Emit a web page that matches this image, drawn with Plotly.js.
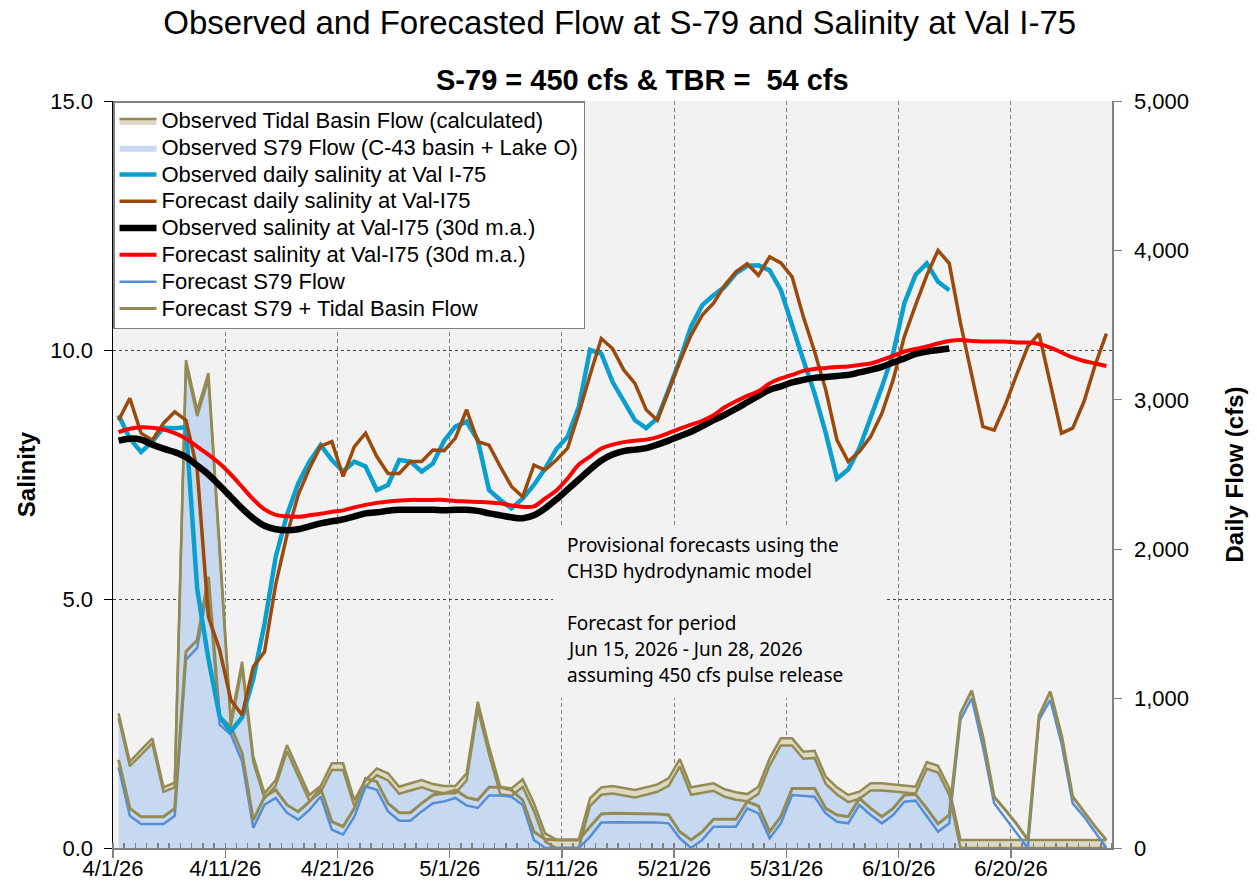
<!DOCTYPE html>
<html>
<head>
<meta charset="utf-8">
<script src="https://cdn.plot.ly/plotly-3.0.1.min.js"></script>
<style>
  body { margin: 0; background: #fff; }
  #chart { width: 1257px; height: 890px; }
</style>
</head>
<body>
<div id="chart"></div>
<script>
// daily values, 4/1/26 .. 6/28/26
var startDate = '2026-04-01';

// observed flows (cfs)
var obsS79 = [
  868,548,624,700,376,405,3226,2891,3139,1960,
  819,1207,576,331,417,647,480,315,373,522,
  522,281,410,488,452,362,385,407,380,367,
  367,452,929,628,360,349,408,247,43,0,
  0,0,281,356,365,349,338,356,376,416,
  545,356,372,383,343,323,313,362,552,686,
  686,597,603,429,358,307,329,385,385,378,
  367,365,530,505,355,0,0,0,0,0,
  0,0,0,0,0,0,0,0,0];
var obsTB = [
  33,30,32,34,30,32,40,40,40,40,
  38,40,35,35,38,42,42,40,42,45,
  45,40,45,45,48,48,48,48,48,48,
  48,48,50,50,50,50,52,52,55,56,
  56,56,52,50,50,50,50,50,50,50,
  50,50,50,50,50,50,48,48,48,48,
  48,48,48,48,48,48,48,48,48,48,
  48,45,45,45,45,54,54,54,54,54,
  54,54,54,54,54,54,54,54,54];

// forecast flows (cfs)
var fcstS79 = [
  540,215,160,160,160,215,1260,1340,1760,825,
  760,580,135,290,335,235,190,255,345,122,
  90,210,412,390,245,182,182,245,300,312,
  335,285,268,352,352,343,288,54,0,0,
  0,0,76,170,172,172,172,172,170,165,
  65,0,54,143,143,143,265,232,65,165,
  355,348,343,232,176,165,288,221,165,221,
  310,317,214,109,165,857,1002,678,299,199,
  98,0,857,991,701,299,210,109,0];
var fcstTotal = [
  590,265,210,210,210,265,1314,1392,1816,879,
  812,634,187,343,388,288,243,310,399,176,
  143,265,466,444,299,236,236,299,355,366,
  388,339,321,406,406,388,321,109,58,54,
  54,54,143,228,232,232,232,232,228,221,
  109,54,109,192,192,192,310,281,109,210,
  399,399,399,265,221,210,332,265,210,265,
  355,359,265,161,221,901,1053,745,343,254,
  161,54,884,1046,756,343,243,143,54];

// salinity
var obsSal = [
  8.69,8.22,7.95,8.16,8.44,8.43,8.45,5.2,3.8,2.64,
  2.34,2.62,3.4,4.5,5.85,6.69,7.32,7.76,8.09,7.79,
  7.56,7.76,7.66,7.19,7.29,7.79,7.76,7.56,7.72,8.18,
  8.46,8.56,8.19,7.19,6.99,6.82,7.02,7.29,7.62,8.01,
  8.26,8.86,10.0,9.93,9.36,8.96,8.59,8.43,8.63,9.2,
  9.8,10.47,10.9,11.1,11.27,11.54,11.69,11.7,11.6,11.2,
  10.47,9.8,9.13,8.33,7.42,7.6,8.03,8.63,9.26,9.93,
  10.94,11.51,11.74,11.37,11.2];
var fcstSal = [
  8.59,9.03,8.33,8.19,8.53,8.76,8.59,7.6,4.64,3.98,
  2.97,2.67,3.64,3.94,5.3,6.29,7.09,7.62,8.07,8.16,
  7.46,8.06,8.33,7.86,7.52,7.52,7.76,7.76,7.99,7.98,
  8.23,8.8,8.16,8.09,7.66,7.26,7.05,7.69,7.59,7.79,
  8.03,8.73,9.5,10.23,10.03,9.6,9.33,8.8,8.59,9.2,
  9.77,10.3,10.7,10.94,11.3,11.57,11.73,11.5,11.87,11.75,
  11.47,10.67,9.97,9.2,8.19,7.76,7.96,8.26,8.73,9.4,
  10.27,10.9,11.5,12.0,11.74,10.54,9.53,8.46,8.39,8.9,
  9.5,10.07,10.33,9.36,8.33,8.43,8.96,9.7,10.33];
var obsSalMA = [
  8.18,8.22,8.20,8.10,8.02,7.95,7.85,7.68,7.50,7.28,
  7.05,6.82,6.62,6.47,6.40,6.38,6.40,6.46,6.52,6.56,
  6.60,6.66,6.72,6.74,6.77,6.79,6.79,6.79,6.79,6.78,
  6.79,6.79,6.77,6.72,6.68,6.64,6.62,6.68,6.82,7.00,
  7.20,7.40,7.60,7.78,7.90,7.97,8.00,8.03,8.10,8.18,
  8.27,8.36,8.47,8.59,8.70,8.82,8.95,9.08,9.20,9.27,
  9.35,9.40,9.44,9.46,9.48,9.50,9.55,9.60,9.66,9.75,
  9.83,9.92,9.97,10.0,10.03];
var fcstSalMA = [
  8.35,8.42,8.45,8.44,8.40,8.33,8.22,8.06,7.90,7.72,
  7.50,7.25,7.00,6.80,6.69,6.66,6.65,6.68,6.71,6.75,
  6.78,6.84,6.89,6.93,6.96,6.98,6.99,6.99,6.99,6.99,
  6.97,6.96,6.95,6.94,6.92,6.88,6.85,6.86,7.02,7.18,
  7.42,7.70,7.86,8.02,8.10,8.15,8.18,8.20,8.25,8.33,
  8.42,8.50,8.58,8.69,8.85,8.97,9.08,9.17,9.33,9.43,
  9.50,9.58,9.62,9.64,9.66,9.67,9.70,9.73,9.80,9.88,
  9.97,10.02,10.07,10.13,10.18,10.20,10.18,10.17,10.17,10.17,
  10.15,10.15,10.12,10.05,9.95,9.85,9.78,9.73,9.68];

var noteLines = [
  'Provisional forecasts using the',
  'CH3D hydrodynamic model',
  '',
  'Forecast for period',
  'Jun 15, 2026 - Jun 28, 2026',
  'assuming 450 cfs pulse release'];

// each day sits in the middle of its slot (excel "between tick marks")
function dayList(n) {
  var out = [];
  var t0 = Date.parse(startDate + 'T00:00:00Z');
  for (var i = 0; i < n; i++) {
    out.push(new Date(t0 + i * 86400000).toISOString().slice(0, 10) + ' 12:00');
  }
  return out;
}
var days = dayList(obsS79.length);

// legend text a bit wider than its row height
function lg(s) { return '<span style="font-size:22px">' + s + '</span>'; }

var olive = '#948a54';
var traces = [
  {x: days, y: obsS79, yaxis: 'y', type: 'scatter', mode: 'lines', stackgroup: 'obs',
   name: lg('Observed S79 Flow (C-43 basin + Lake O)'), fillcolor: '#c6d9f1',
   line: {width: 0, color: '#c6d9f1'}, legendrank: 2},
  {x: days, y: obsTB, yaxis: 'y', type: 'scatter', mode: 'lines', stackgroup: 'obs',
   name: lg('Observed Tidal Basin Flow (calculated)'), fillcolor: '#ddd9c4',
   line: {width: 2.5, color: olive}, legendrank: 1},
  {x: days, y: obsS79, yaxis: 'y', type: 'scatter', mode: 'lines', showlegend: false,
   line: {width: 2.5, color: olive}, hoverinfo: 'skip'},
  {x: days, y: fcstS79, yaxis: 'y', type: 'scatter', mode: 'lines',
   name: lg('Forecast S79 Flow'), line: {width: 2.5, color: '#558ed5'}, legendrank: 7},
  {x: days, y: fcstTotal, yaxis: 'y', type: 'scatter', mode: 'lines',
   name: lg('Forecast S79 + Tidal Basin Flow'), line: {width: 3, color: olive}, legendrank: 8},
  {x: days.slice(0, obsSal.length), y: obsSal, yaxis: 'y2', type: 'scatter', mode: 'lines',
   name: lg('Observed daily salinity at Val I-75'), line: {width: 4.5, color: '#0b9fcf'}, legendrank: 3},
  {x: days, y: fcstSal, yaxis: 'y2', type: 'scatter', mode: 'lines',
   name: lg('Forecast daily salinity at Val-I75'), line: {width: 3.5, color: '#9c4a0c'}, legendrank: 4},
  {x: days.slice(0, obsSalMA.length), y: obsSalMA, yaxis: 'y2', type: 'scatter', mode: 'lines',
   name: lg('Observed salinity at Val-I75 (30d m.a.)'), line: {width: 6.5, color: '#000000', shape: 'spline'}, legendrank: 5},
  {x: days, y: fcstSalMA, yaxis: 'y2', type: 'scatter', mode: 'lines',
   name: lg('Forecast salinity at Val-I75 (30d m.a.)'), line: {width: 4, color: '#ff0000', shape: 'spline'}, legendrank: 6}
];

var annots = [{
  text: '<b>S-79 = 450 cfs &amp; TBR = \u00a054 cfs</b>',
  xref: 'paper', yref: 'paper', x: 0.5305, y: 1.028, xanchor: 'center', yanchor: 'middle',
  showarrow: false, font: {size: 29}
}];
var noteY = [545, 571, 597, 623, 649, 675];
for (var i = 0; i < noteLines.length; i++) {
  if (!noteLines[i]) continue;
  annots.push({
    text: noteLines[i], xref: 'paper', yref: 'paper',
    x: (565 - 113) / 999, y: (848 - noteY[i]) / 747, xanchor: 'left', yanchor: 'middle',
    showarrow: false, font: {family: 'Noto Sans, sans-serif', size: 19}
  });
}

var layout = {
  width: 1257, height: 890,
  margin: {l: 113, r: 145, t: 101, b: 42},
  paper_bgcolor: '#ffffff', plot_bgcolor: '#f2f2f2',
  font: {family: 'Liberation Sans, Arial, sans-serif', color: '#000'},
  title: {text: 'Observed and Forecasted Flow at S-79 and Salinity at Val I-75',
          font: {size: 33}, x: 0.493, xanchor: 'center', y: 0.975, yanchor: 'middle'},
  showlegend: true,
  legend: {x: 0, xanchor: 'left', y: 1, yanchor: 'top', bgcolor: '#ffffff',
           bordercolor: '#808080', borderwidth: 1.5, font: {size: 18.3},
           traceorder: 'normal', itemwidth: 37},
  xaxis: {type: 'date', range: ['2026-04-01', '2026-06-29'],
          tick0: '2026-04-01', dtick: 864000000, tickformat: '%-m/%-d/%y',
          ticks: 'outside', ticklen: 8, tickcolor: '#808080', tickwidth: 1.5,
          showline: true, linecolor: '#808080', linewidth: 1.5,
          showgrid: true, gridcolor: '#808080', griddash: '4px,3px', gridwidth: 1,
          zeroline: false, tickfont: {size: 22}, ticklabelstandoff: -8,
          minor: {dtick: 86400000, ticks: 'inside', ticklen: 5, tickcolor: '#808080', showgrid: false}},
  yaxis: {range: [0, 5000], side: 'right', tickvals: [0, 1000, 2000, 3000, 4000, 5000],
          tickformat: ',', ticks: 'outside', ticklen: 8, tickcolor: '#808080',
          showline: true, linecolor: '#808080', linewidth: 1.5,
          showgrid: false, zeroline: false, tickfont: {size: 22}, ticklabelstandoff: 8,
          title: {text: '<b>Daily Flow (cfs)</b>', font: {size: 24}, standoff: 38}},
  yaxis2: {range: [0, 15], overlaying: 'y', side: 'left', tickvals: [0, 5, 10, 15],
           tickformat: '.1f', ticks: 'outside', ticklen: 8, tickcolor: '#000',
           showline: true, linecolor: '#000', linewidth: 1.5,
           showgrid: true, gridcolor: '#404040', griddash: 'dot', gridwidth: 1,
           zeroline: false, tickfont: {size: 22}, ticklabelstandoff: 6,
           title: {text: '<b>Salinity</b>', font: {size: 24}, standoff: 8}},
  shapes: [{type: 'rect', xref: 'paper', yref: 'paper',
            x0: (553 - 113) / 999, x1: (887 - 113) / 999,
            y0: (848 - 698) / 747, y1: (848 - 525) / 747,
            fillcolor: '#f2f2f2', line: {width: 0}, layer: 'above'}],
  annotations: annots
};

Plotly.newPlot('chart', traces, layout, {displayModeBar: false, staticPlot: true});
</script>
</body>
</html>
